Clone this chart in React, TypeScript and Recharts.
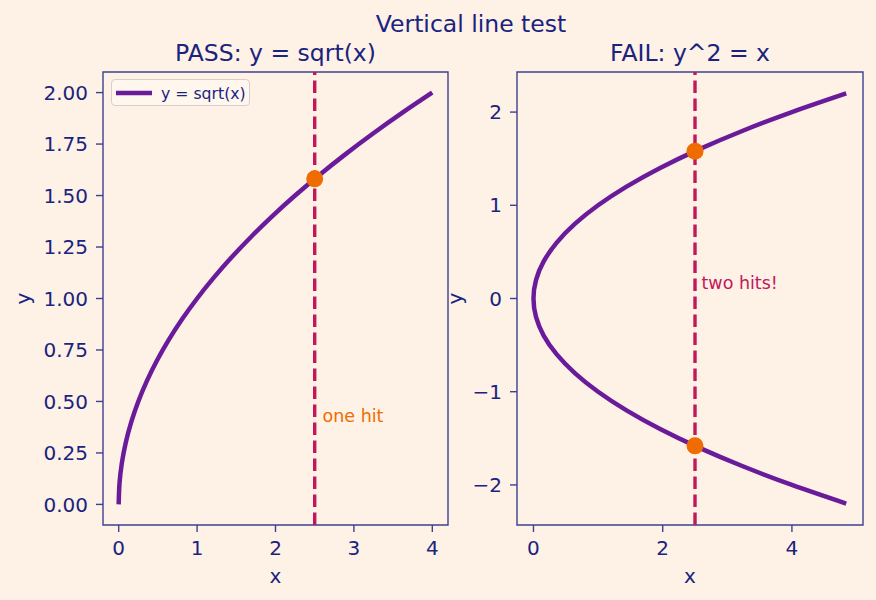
import React from 'react';
import { LineChart, Line, XAxis, YAxis, ReferenceLine, ReferenceDot, ReferenceArea, Legend } from 'recharts';

// ---- data ----
const sqrtX = [0, 0.01, 0.04, 0.09, 0.16, 0.25, 0.36, 0.49, 0.64, 0.81, 1.0, 1.21, 1.44, 1.69, 1.96, 2.25, 2.56, 2.89, 3.24, 3.61, 4.0];
const sqrtY = [0, 0.1, 0.2, 0.3, 0.4, 0.5, 0.6, 0.7, 0.8, 0.9, 1.0, 1.1, 1.2, 1.3, 1.4, 1.5, 1.6, 1.7, 1.8, 1.9, 2.0];

const paraX = [4.84, 4.0, 3.24, 2.56, 1.96, 1.44, 1.0, 0.64, 0.36, 0.16, 0.04, 0, 0.04, 0.16, 0.36, 0.64, 1.0, 1.44, 1.96, 2.56, 3.24, 4.0, 4.84];
const paraY = [-2.2, -2.0, -1.8, -1.6, -1.4, -1.2, -1.0, -0.8, -0.6, -0.4, -0.2, 0, 0.2, 0.4, 0.6, 0.8, 1.0, 1.2, 1.4, 1.6, 1.8, 2.0, 2.2];

const testX = 2.5;
const passHits = [1.581];
const failHits = [1.581, -1.581];

const leftXTicks = [0, 1, 2, 3, 4];
const leftYTicks = [0, 0.25, 0.5, 0.75, 1.0, 1.25, 1.5, 1.75, 2.0];
const rightXTicks = [0, 2, 4];
const rightYTicks = [-2, -1, 0, 1, 2];

const leftXDomain = [-0.2, 4.2];
const leftYDomain = [-0.1, 2.1];
const rightXDomain = [-0.255, 5.1];
const rightYDomain = [-2.43, 2.43];

const suptitle = 'Vertical line test';
const leftTitle = 'PASS: y = sqrt(x)';
const rightTitle = 'FAIL: y^2 = x';
const legendLabel = 'y = sqrt(x)';
const leftNote = { x: 2.6, y: 0.4, text: 'one hit' };
const rightNote = { x: 2.6, y: 0.1, text: 'two hits!' };

// ---- styles ----
const BG = '#fef1e6';
const TEXT = '#1a237e';
const FRAME = '#3d4190';
const PURPLE = '#6a1b9a';
const CRIMSON = '#c2185b';
const ORANGE = '#ef6c00';
const FONT = "'DejaVu Sans', sans-serif";

const leftData = sqrtX.map((x, i) => ({ x, y: sqrtY[i] }));
const rightData = paraX.map((x, i) => ({ x, y: paraY[i] }));

const minus = (s: string) => s.replace('-', '\u2212');
const tickStyle = { fill: TEXT, fontSize: 20, fontFamily: FONT };

const NoteShape = (color: string, text: string) => (props: any) => (
  <text x={props.cx} y={props.cy} fill={color} fontSize={17.5} fontFamily={FONT} textAnchor="start">
    {text}
  </text>
);

const LegendBox = () => (
  <div
    style={{
      width: 139,
      height: 27,
      boxSizing: 'border-box',
      border: '1px solid #d6d0cc',
      borderRadius: 4,
      background: 'rgba(255,247,240,0.8)',
      position: 'relative',
      fontFamily: FONT,
    }}
  >
    <svg width={139} height={27} style={{ position: 'absolute', left: 0, top: 0 }}>
      <line x1={4} x2={40} y1={13} y2={13} stroke={PURPLE} strokeWidth={4.5} />
      <text x={49} y={19} fontSize={15.7} fill={TEXT} fontFamily={FONT}>
        {legendLabel}
      </text>
    </svg>
  </div>
);

const axisCommon = {
  axisLine: false,
  tickSize: 7,
  tickLine: { stroke: FRAME, strokeWidth: 1.4 },
  tick: tickStyle,
  allowDataOverflow: true,
};

export default function App() {
  return (
    <div style={{ position: 'absolute', left: 0, top: 0, width: 876, height: 600, background: BG, fontFamily: FONT }}>
      <div style={{ position: 'absolute', left: 0, top: 0 }}>
        <LineChart width={460} height={600} data={leftData} margin={{ top: 72, right: 12, bottom: 0, left: 0 }}>
          <XAxis
            {...axisCommon}
            dataKey="x"
            type="number"
            domain={leftXDomain}
            ticks={leftXTicks}
            height={75}
            tickMargin={9}
          />
          <YAxis
            {...axisCommon}
            dataKey="y"
            type="number"
            domain={leftYDomain}
            ticks={leftYTicks}
            width={103}
            tickMargin={8}
            tickFormatter={(v: number) => v.toFixed(2)}
          />
          <ReferenceArea
            x1={leftXDomain[0]}
            x2={leftXDomain[1]}
            y1={leftYDomain[0]}
            y2={leftYDomain[1]}
            fill="none"
            stroke={FRAME}
            strokeWidth={1.4}
            ifOverflow="visible"
          />
          <Line
            dataKey="y"
            type="natural"
            stroke={PURPLE}
            strokeWidth={4.5}
            dot={false}
            isAnimationActive={false}
            name={legendLabel}
          />
          <ReferenceLine x={testX} stroke={CRIMSON} strokeWidth={3.4} strokeDasharray="12.5 5.5" />
          {passHits.map((y, i) => (
            <ReferenceDot key={i} x={testX} y={y} r={8.5} fill={ORANGE} stroke="none" />
          ))}
          <ReferenceDot x={leftNote.x} y={leftNote.y} r={0} shape={NoteShape(ORANGE, leftNote.text)} />
          <Legend
            layout="horizontal"
            verticalAlign="middle"
            align="center"
            content={() => <LegendBox />}
            wrapperStyle={{ position: 'absolute', left: 111, top: 79, width: 139, height: 27 }}
          />
        </LineChart>
      </div>
      <div style={{ position: 'absolute', left: 440, top: 0 }}>
        <LineChart width={436} height={600} data={rightData} margin={{ top: 72, right: 13, bottom: 0, left: 0 }}>
          <XAxis
            {...axisCommon}
            dataKey="x"
            type="number"
            domain={rightXDomain}
            ticks={rightXTicks}
            height={75}
            tickMargin={9}
          />
          <YAxis
            {...axisCommon}
            dataKey="y"
            type="number"
            domain={rightYDomain}
            ticks={rightYTicks}
            width={77}
            tickMargin={8}
            tickFormatter={(v: number) => minus(String(v))}
          />
          <ReferenceArea
            x1={rightXDomain[0]}
            x2={rightXDomain[1]}
            y1={rightYDomain[0]}
            y2={rightYDomain[1]}
            fill="none"
            stroke={FRAME}
            strokeWidth={1.4}
            ifOverflow="visible"
          />
          <Line dataKey="y" type="natural" stroke={PURPLE} strokeWidth={4.5} dot={false} isAnimationActive={false} />
          <ReferenceLine x={testX} stroke={CRIMSON} strokeWidth={3.4} strokeDasharray="12.5 5.5" />
          {failHits.map((y, i) => (
            <ReferenceDot key={i} x={testX} y={y} r={8.5} fill={ORANGE} stroke="none" />
          ))}
          <ReferenceDot x={rightNote.x} y={rightNote.y} r={0} shape={NoteShape(CRIMSON, rightNote.text)} />
        </LineChart>
      </div>
      <svg width={876} height={600} style={{ position: 'absolute', left: 0, top: 0, pointerEvents: 'none' }}>
        <text x={471} y={32} textAnchor="middle" fontSize={23.5} fill={TEXT} fontFamily={FONT}>{suptitle}</text>
        <text x={275.5} y={61} textAnchor="middle" fontSize={23.5} fill={TEXT} fontFamily={FONT}>{leftTitle}</text>
        <text x={690} y={61} textAnchor="middle" fontSize={23.5} fill={TEXT} fontFamily={FONT}>{rightTitle}</text>
        <text x={275.5} y={583} textAnchor="middle" fontSize={20} fill={TEXT} fontFamily={FONT}>x</text>
        <text x={690} y={583} textAnchor="middle" fontSize={20} fill={TEXT} fontFamily={FONT}>x</text>
        <text x={29.5} y={298.5} textAnchor="middle" fontSize={20} fill={TEXT} fontFamily={FONT} transform="rotate(-90 29.5 298.5)">y</text>
        <text x={462} y={298.5} textAnchor="middle" fontSize={20} fill={TEXT} fontFamily={FONT} transform="rotate(-90 462 298.5)">y</text>
      </svg>
    </div>
  );
}
